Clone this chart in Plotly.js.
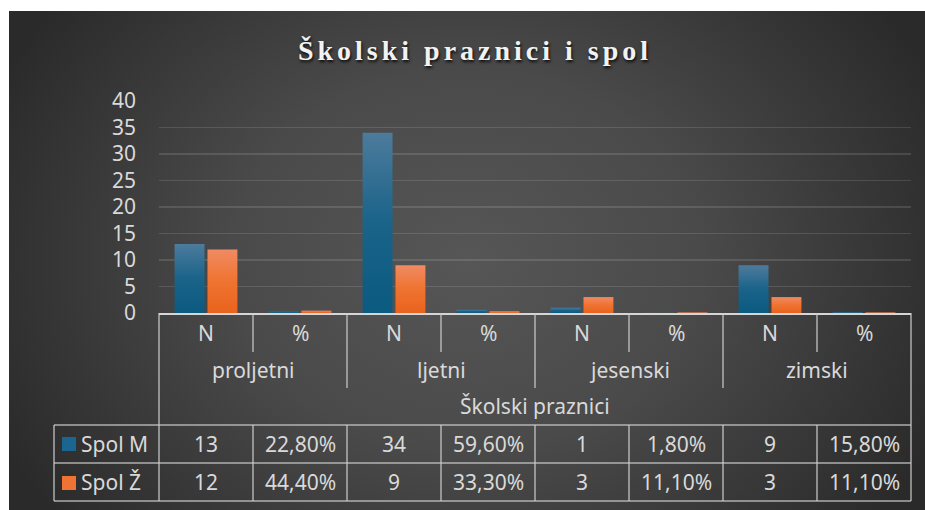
<!DOCTYPE html>
<html><head><meta charset="utf-8">
<script src="https://cdn.plot.ly/plotly-3.0.1.min.js"></script>
<style>
html,body{margin:0;padding:0;background:#ffffff;overflow:hidden;}
#bg{position:absolute;left:9px;top:11px;width:916px;height:499px;
  background:radial-gradient(ellipse 520px 420px at 50% 50%, #565656 0%, #4a4a4a 45%, #2a2a2a 100%);}
#chart{position:absolute;left:0;top:0;width:925px;height:510px;}
#chart .gtitle{letter-spacing:4px;}
</style></head>
<body><div id="bg"></div><div id="chart"></div>
<script>
// ---- data ----
const seasons = ['proljetni', 'ljetni', 'jesenski', 'zimski'];
const measures = ['N', '%'];
const groupTitle = 'Školski praznici';
const seriesNames = ['Spol M', 'Spol Ž'];
const spolM_N = [13, 34, 1, 9];
const spolM_pct = [22.8, 59.6, 1.8, 15.8];
const spolZ_N = [12, 9, 3, 3];
const spolZ_pct = [44.4, 33.3, 11.1, 11.1];
const yTickVals = [0, 5, 10, 15, 20, 25, 30, 35, 40];
const chartTitle = 'Školski praznici i spol';

// ---- styling ----
const colM = '#1b6690', colZ = '#ef7334';
const txt = '#d9d9d9';
const lineCol = 'rgba(205,205,205,0.8)';
const font = 'Noto Sans, Open Sans, sans-serif';

const cats = seasons.flatMap(s => measures.map(m => s + ' ' + m));
const valsM = seasons.flatMap((s, i) => [spolM_N[i], spolM_pct[i] / 100]);
const valsZ = seasons.flatMap((s, i) => [spolZ_N[i], spolZ_pct[i] / 100]);
const fmtPct = v => v.toFixed(2).replace('.', ',') + '%';
const cellM = seasons.flatMap((s, i) => [String(spolM_N[i]), fmtPct(spolM_pct[i])]);
const cellZ = seasons.flatMap((s, i) => [String(spolZ_N[i]), fmtPct(spolZ_pct[i])]);

// plot geometry (pixels)
const W = 925, H = 510, L = 159, R = 14, T = 101, B = 197;
const pw = W - L - R, ph = H - T - B;
const px = x => (x - L) / pw;
const py = y => (H - B - y) / ph;
const nC = cats.length;
const bx = k => k / nC;           // category boundary k in paper coords
const rows = {top: 313, r1: 352, r2: 388, r3: 425, r4: 463, r5: 501};

const traces = [
  {type: 'bar', name: seriesNames[0], x: cats, y: valsM, marker: {color: colM}, hoverinfo: 'none'},
  {type: 'bar', name: seriesNames[1], x: cats, y: valsZ, marker: {color: colZ}, hoverinfo: 'none'}
];

const shapes = [];
const ln = (x0, y0, x1, y1, w) => shapes.push({type: 'line', xref: 'paper', yref: 'paper',
  x0: x0, y0: y0, x1: x1, y1: y1, line: {color: lineCol, width: w || 1.5}});
// outer vertical borders of header area
ln(bx(0), py(rows.top), bx(0), py(rows.r5));
ln(bx(nC), py(rows.top), bx(nC), py(rows.r5));
// N / % dividers in first header row
for (let k = 1; k < nC; k += 2) ln(bx(k), py(rows.top), bx(k), py(rows.r1));
// season dividers across two header rows
for (let k = 2; k < nC; k += 2) ln(bx(k), py(rows.top), bx(k), py(rows.r2));
// data rows horizontal lines
[rows.r3, rows.r4, rows.r5].forEach(y => ln(px(54), py(y), bx(nC), py(y)));
ln(px(54), py(rows.r3), px(54), py(rows.r5));
for (let k = 1; k < nC; k++) ln(bx(k), py(rows.r3), bx(k), py(rows.r5));
// legend keys
shapes.push({type: 'rect', xref: 'paper', yref: 'paper', x0: px(62), x1: px(76), y0: py(451), y1: py(437),
  fillcolor: colM, line: {width: 0}});
shapes.push({type: 'rect', xref: 'paper', yref: 'paper', x0: px(62), x1: px(76), y0: py(490), y1: py(476),
  fillcolor: colZ, line: {width: 0}});

const annotations = [];
const ann = (x, xref, y, text, xanchor) => annotations.push({x: x, xref: xref, y: y, yref: 'paper',
  text: text, showarrow: false, xanchor: xanchor || 'center', yanchor: 'middle',
  font: {family: font, size: 21, color: txt}});
const midY = (a, b) => py((a + b) / 2);
cats.forEach((c, i) => {
  ann(i, 'x', midY(rows.top, rows.r1), measures[i % 2]);
  ann(i, 'x', midY(rows.r3, rows.r4), cellM[i]);
  ann(i, 'x', midY(rows.r4, rows.r5), cellZ[i]);
});
seasons.forEach((s, i) => ann(2 * i + 0.5, 'x', py(370), s));
ann((nC - 1) / 2, 'x', py(406), groupTitle);
ann(px(79), 'paper', midY(rows.r3, rows.r4), seriesNames[0], 'left');
ann(px(79), 'paper', midY(rows.r4, rows.r5), seriesNames[1], 'left');

const layout = {
  width: W, height: H,
  margin: {l: L, r: R, t: T, b: B, pad: 0},
  paper_bgcolor: 'rgba(0,0,0,0)', plot_bgcolor: 'rgba(0,0,0,0)',
  showlegend: false,
  barmode: 'group', bargap: 0.3, bargroupgap: 0.09,
  title: {text: chartTitle, x: 475 / W, xanchor: 'center', y: 1 - 50 / H, yanchor: 'middle', yref: 'container',
    font: {family: 'Liberation Serif, serif', size: 28, weight: 'bold', color: '#f2f2f2',
      shadow: '1px 2px 3px rgba(0,0,0,0.85)'}},
  xaxis: {type: 'category', range: [-0.5, nC - 0.5], showticklabels: false, showgrid: false,
    zeroline: false, showline: true, linecolor: '#d6d6d6', linewidth: 2, ticks: '', fixedrange: true},
  yaxis: {range: [0, 40], tickvals: yTickVals, showgrid: true, gridcolor: 'rgba(255,255,255,0.12)',
    gridwidth: 1.5, zeroline: false, showline: false, ticks: '', ticklabelstandoff: 22,
    tickfont: {family: font, size: 21, color: txt}, fixedrange: true},
  shapes: shapes, annotations: annotations
};

Plotly.newPlot('chart', traces, layout, {displayModeBar: false, staticPlot: true}).then(gd => {
  const ns = 'http://www.w3.org/2000/svg';
  const svg = gd.querySelector('.main-svg');
  let defs = svg.querySelector('defs');
  if (!defs) { defs = document.createElementNS(ns, 'defs'); svg.insertBefore(defs, svg.firstChild); }
  const grads = [['gM', '#4d7b9c', '#1a6389', '#0b5a80'], ['gZ', '#f08b62', '#ef7330', '#e8631e']];
  grads.forEach(g => {
    const lg = document.createElementNS(ns, 'linearGradient');
    lg.setAttribute('id', g[0]); lg.setAttribute('x1', '0'); lg.setAttribute('y1', '0');
    lg.setAttribute('x2', '0'); lg.setAttribute('y2', '1');
    [[0, g[1]], [0.5, g[2]], [1, g[3]]].forEach(s => {
      const st = document.createElementNS(ns, 'stop');
      st.setAttribute('offset', s[0]); st.setAttribute('stop-color', s[1]); lg.appendChild(st);
    });
    defs.appendChild(lg);
  });
  gd.querySelectorAll('.barlayer .trace').forEach((tr, ti) => {
    tr.querySelectorAll('path').forEach(p => { p.style.fill = 'url(#' + grads[ti][0] + ')'; });
  });
});
</script>
</body></html>
